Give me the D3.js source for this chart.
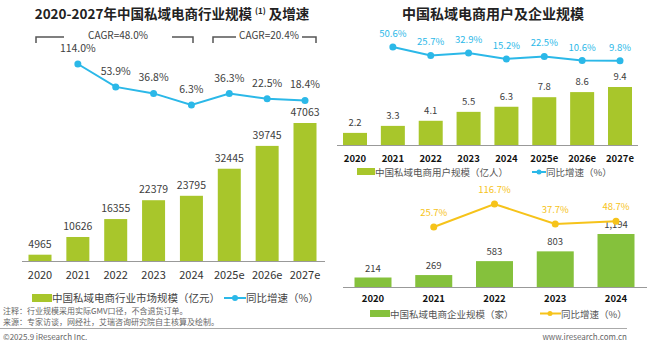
<!DOCTYPE html>
<html>
<head>
<meta charset="utf-8">
<script src="https://cdn.jsdelivr.net/npm/d3@7"></script>
<style>
body{margin:0;background:#fff;}
svg{display:block;font-family:"Noto Sans CJK SC","Noto Sans",sans-serif;}
</style>
</head>
<body>
<svg></svg>
<script>
// left chart data
var years = ["2020","2021","2022","2023","2024","2025e","2026e","2027e"];
var marketSize = [4965,10626,16355,22379,23795,32445,39745,47063];
var marketGrowth = [null,114.0,53.9,36.8,6.3,36.3,22.5,18.4];

// right top
var userSize = [2.2,3.3,4.1,5.5,6.3,7.8,8.6,9.4];
var userGrowth = [null,50.6,25.7,32.9,15.2,22.5,10.6,9.8];

// right bottom
var compYears = ["2020","2021","2022","2023","2024"];
var compSize = [214,269,583,803,1194];
var compGrowth = [null,25.7,116.7,37.7,48.7];

var svg = d3.select("svg").attr("width",660).attr("height",346);
var green = "#a8c62b", blue = "#2bb8e8", yellow = "#f6c31a", dkgreen = "#85c13c";
var txt = "#404040";

// ---------- left chart ----------
var x1 = d3.scalePoint().domain(years).range([40,305]);
var y1 = d3.scaleLinear().domain([2950,47063]).range([261,123]);
var g1 = d3.scaleLinear().domain([0,114]).range([107.4,64]);

svg.append("text").attr("x",172).attr("y",19).attr("text-anchor","middle")
  .style("font-size","13.5px").style("font-weight","bold").attr("fill","#222")
  .html('2020-2027年中国私域电商行业规模 <tspan dy="-5" font-size="8px">(1)</tspan><tspan dy="5"> 及增速</tspan>');

// cagr brackets
function bracket(xa, xb, ta, tb, label){
  var p = svg.append("g").attr("stroke","#555").attr("stroke-width",1.5).attr("fill","none");
  p.append("path").attr("d","M"+xa+",43V37H"+ta);
  p.append("path").attr("d","M"+tb+",37H"+xb+"V43");
  svg.append("text").attr("x",(ta+tb)/2).attr("y",39).attr("text-anchor","middle")
    .style("font-size","10px").attr("fill",txt).text(label);
}
bracket(36,193,64,172,"CAGR=48.0%");
bracket(213,316,236,302,"CAGR=20.4%");

svg.append("line").attr("x1",22).attr("x2",325).attr("y1",261.5).attr("y2",261.5)
  .attr("stroke","#999").attr("stroke-width",1);

svg.selectAll(".b1").data(years).enter().append("rect")
  .attr("x",d=>x1(d)-11.5).attr("width",23)
  .attr("y",(d,i)=>y1(marketSize[i])).attr("height",(d,i)=>261-y1(marketSize[i]))
  .attr("fill",green);
svg.selectAll(".v1").data(years).enter().append("text")
  .attr("x",d=>x1(d)).attr("y",(d,i)=>y1(marketSize[i])-7).attr("text-anchor","middle")
  .style("font-size","10.5px").attr("fill",txt).text((d,i)=>marketSize[i]);
svg.selectAll(".xl1").data(years).enter().append("text")
  .attr("x",d=>x1(d)).attr("y",279).attr("text-anchor","middle")
  .style("font-size","11px").attr("fill","#333").text(d=>d);

var line1 = d3.line().defined(d=>d[1]!=null).x(d=>x1(d[0])).y(d=>g1(d[1]));
var lp1 = years.map((d,i)=>[d,marketGrowth[i]]);
svg.append("path").datum(lp1).attr("d",line1).attr("fill","none").attr("stroke",blue).attr("stroke-width",2);
svg.selectAll(".d1").data(lp1.filter(d=>d[1]!=null)).enter().append("circle")
  .attr("cx",d=>x1(d[0])).attr("cy",d=>g1(d[1])).attr("r",3.5).attr("fill",blue);
svg.selectAll(".gl1").data(lp1.filter(d=>d[1]!=null)).enter().append("text")
  .attr("x",d=>x1(d[0])).attr("y",d=>g1(d[1])-12).attr("text-anchor","middle")
  .style("font-size","10.5px").attr("fill",txt).text(d=>d[1].toFixed(1)+"%");

// legend left
svg.append("rect").attr("x",32).attr("y",294).attr("width",20).attr("height",8).attr("fill",green);
svg.append("text").attr("x",52).attr("y",302).style("font-size","10.5px").attr("fill","#444").text("中国私域电商行业市场规模（亿元）");
svg.append("line").attr("x1",224).attr("x2",246).attr("y1",298).attr("y2",298).attr("stroke",blue).attr("stroke-width",2);
svg.append("circle").attr("cx",235).attr("cy",298).attr("r",3).attr("fill",blue);
svg.append("text").attr("x",246).attr("y",302).style("font-size","10.5px").attr("fill","#444").text("同比增速（%）");

svg.append("text").attr("x",3).attr("y",314).style("font-size","8px").attr("fill","#666").text("注释：行业规模采用实际GMV口径，不含退货订单。");
svg.append("text").attr("x",3).attr("y",325).style("font-size","8px").attr("fill","#666").text("来源：专家访谈，网经社，艾瑞咨询研究院自主核算及绘制。");
svg.append("line").attr("x1",0).attr("x2",627).attr("y1",328.5).attr("y2",328.5).attr("stroke","#aaa");
svg.append("text").attr("x",3).attr("y",340).style("font-size","8px").attr("fill","#666").text("©2025.9 iResearch Inc.");
svg.append("text").attr("x",627).attr("y",340).attr("text-anchor","end").style("font-size","8px").attr("fill","#666").text("www.iresearch.com.cn");

// ---------- right top ----------
var x2 = d3.scalePoint().domain(years).range([355,620]);
var y2 = d3.scaleLinear().domain([0.3,9.4]).range([145,87]);
var g2 = d3.scaleLinear().domain([10.6,50.6]).range([60.5,47]);

svg.append("text").attr("x",493).attr("y",19).attr("text-anchor","middle")
  .style("font-size","14px").style("font-weight","bold").attr("fill","#222").text("中国私域电商用户及企业规模");

svg.append("line").attr("x1",337).attr("x2",638).attr("y1",145.5).attr("y2",145.5).attr("stroke","#999");
svg.selectAll(".b2").data(years).enter().append("rect")
  .attr("x",d=>x2(d)-12).attr("width",24)
  .attr("y",(d,i)=>y2(userSize[i])).attr("height",(d,i)=>145-y2(userSize[i]))
  .attr("fill",green);
svg.selectAll(".v2").data(years).enter().append("text")
  .attr("x",d=>x2(d)).attr("y",(d,i)=>y2(userSize[i])-7).attr("text-anchor","middle")
  .style("font-size","9.5px").attr("fill",txt).text((d,i)=>userSize[i].toFixed(1));
svg.selectAll(".xl2").data(years).enter().append("text")
  .attr("x",d=>x2(d)).attr("y",162).attr("text-anchor","middle")
  .style("font-size","9.5px").style("font-weight","bold").attr("fill","#111").text(d=>d);

var line2 = d3.line().defined(d=>d[1]!=null).x(d=>x2(d[0])).y(d=>g2(d[1]));
var lp2 = years.map((d,i)=>[d,userGrowth[i]]);
svg.append("path").datum(lp2).attr("d",line2).attr("fill","none").attr("stroke",blue).attr("stroke-width",2);
svg.selectAll(".d2").data(lp2.filter(d=>d[1]!=null)).enter().append("circle")
  .attr("cx",d=>x2(d[0])).attr("cy",d=>g2(d[1])).attr("r",3.5).attr("fill",blue);
svg.selectAll(".gl2").data(lp2.filter(d=>d[1]!=null)).enter().append("text")
  .attr("x",d=>x2(d[0])).attr("y",d=>g2(d[1])-10).attr("text-anchor","middle")
  .style("font-size","9.5px").attr("fill",blue).text(d=>d[1].toFixed(1)+"%");

svg.append("rect").attr("x",357).attr("y",168).attr("width",18).attr("height",7).attr("fill",green);
svg.append("text").attr("x",375).attr("y",176).style("font-size","9.5px").attr("fill","#555").text("中国私域电商用户规模（亿人）");
svg.append("line").attr("x1",532).attr("x2",546).attr("y1",172).attr("y2",172).attr("stroke",blue).attr("stroke-width",2);
svg.append("circle").attr("cx",539).attr("cy",172).attr("r",2.5).attr("fill",blue);
svg.append("text").attr("x",546).attr("y",176).style("font-size","9.5px").attr("fill","#555").text("同比增速（%）");

// ---------- right bottom ----------
var x3 = d3.scalePoint().domain(compYears).range([373,616]);
var y3 = d3.scaleLinear().domain([0,1194]).range([287,234]);
var g3 = d3.scaleLinear().domain([25.7,116.7]).range([227,204]);

svg.append("line").attr("x1",343).attr("x2",647).attr("y1",287.5).attr("y2",287.5).attr("stroke","#999");
svg.selectAll(".b3").data(compYears).enter().append("rect")
  .attr("x",d=>x3(d)-18.5).attr("width",37)
  .attr("y",(d,i)=>y3(compSize[i])).attr("height",(d,i)=>287-y3(compSize[i]))
  .attr("fill",dkgreen);
svg.selectAll(".v3").data(compYears).enter().append("text")
  .attr("x",d=>x3(d)).attr("y",(d,i)=>y3(compSize[i])-6).attr("text-anchor","middle")
  .style("font-size","9.5px").attr("fill",txt).text((d,i)=>d3.format(",")(compSize[i]));
svg.selectAll(".xl3").data(compYears).enter().append("text")
  .attr("x",d=>x3(d)).attr("y",302).attr("text-anchor","middle")
  .style("font-size","9.5px").style("font-weight","bold").attr("fill","#111").text(d=>d);

var line3 = d3.line().defined(d=>d[1]!=null).x(d=>x3(d[0])).y(d=>g3(d[1]));
var lp3 = compYears.map((d,i)=>[d,compGrowth[i]]);
svg.append("path").datum(lp3).attr("d",line3).attr("fill","none").attr("stroke",yellow).attr("stroke-width",2);
svg.selectAll(".d3").data(lp3.filter(d=>d[1]!=null)).enter().append("circle")
  .attr("cx",d=>x3(d[0])).attr("cy",d=>g3(d[1])).attr("r",3.5).attr("fill",yellow);
svg.selectAll(".gl3").data(lp3.filter(d=>d[1]!=null)).enter().append("text")
  .attr("x",d=>x3(d[0])).attr("y",d=>g3(d[1])-11).attr("text-anchor","middle")
  .style("font-size","9.5px").attr("fill",yellow).text(d=>d[1].toFixed(1)+"%");

svg.append("rect").attr("x",370).attr("y",310).attr("width",20).attr("height",7).attr("fill",dkgreen);
svg.append("text").attr("x",390).attr("y",318).style("font-size","9.5px").attr("fill","#555").text("中国私域电商企业规模（家）");
svg.append("line").attr("x1",540).attr("x2",561).attr("y1",313.5).attr("y2",313.5).attr("stroke",yellow).attr("stroke-width",2);
svg.append("circle").attr("cx",550).attr("cy",313.5).attr("r",2.5).attr("fill",yellow);
svg.append("text").attr("x",561).attr("y",318).style("font-size","9.5px").attr("fill","#555").text("同比增速（%）");
</script>
</body>
</html>
